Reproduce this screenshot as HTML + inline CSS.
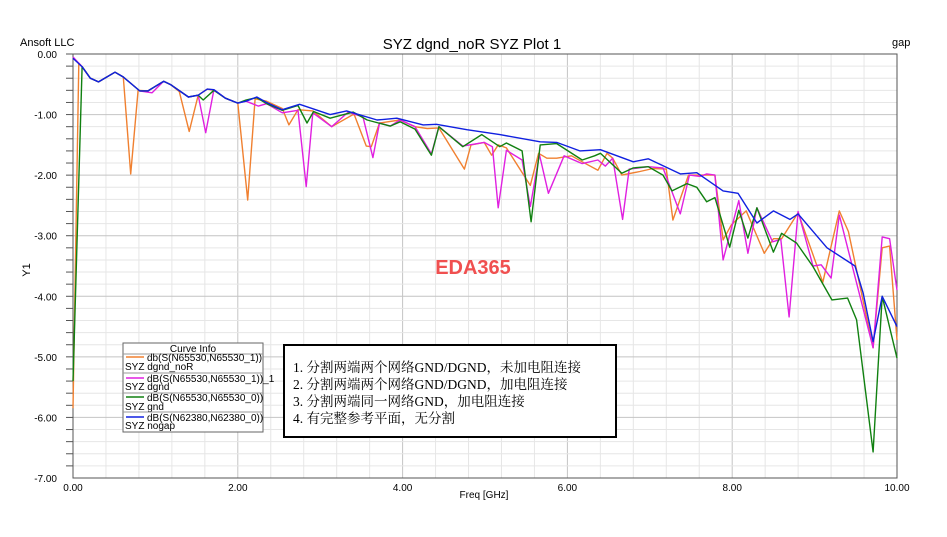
<!DOCTYPE html>
<html><head><meta charset="utf-8"><style>
body{margin:0;background:#fff;width:947px;height:532px;overflow:hidden;font-family:"Liberation Sans",Arial,sans-serif}
</style></head><body>
<svg id="s" width="947" height="532" xmlns="http://www.w3.org/2000/svg" font-family="Liberation Sans, sans-serif">
<text x="20" y="46" font-size="11">Ansoft LLC</text>
<text x="472" y="49" font-size="15" text-anchor="middle">SYZ dgnd_noR SYZ Plot 1</text>
<text x="892" y="46" font-size="11">gap</text>
<g id="grid"></g>
<rect x="73" y="54" width="824" height="424" fill="none" stroke="#555" stroke-width="1"/>
<g id="ticks" font-size="10"></g>
<text x="30" y="270" font-size="11" transform="rotate(-90 30 270)" text-anchor="middle">Y1</text>
<text x="484" y="498" font-size="10" text-anchor="middle">Freq [GHz]</text>
<g id="series" fill="none" stroke-width="1.4" stroke-linejoin="round"></g>
<text x="473" y="274" font-size="20" font-weight="bold" fill="#f05050" text-anchor="middle">EDA365</text>
<g font-size="10">
<rect x="123" y="343" width="140" height="89" fill="#fff" stroke="#666"/>
<text x="193" y="352" text-anchor="middle">Curve Info</text>
<line x1="123" y1="354" x2="263" y2="354" stroke="#999"/>
<line x1="126" y1="357" x2="144" y2="357" stroke="#f08030" stroke-width="1.5"/>
<text x="147" y="361">db(S(N65530,N65530_1))</text><text x="125" y="370">SYZ dgnd_noR</text>
<line x1="123" y1="373" x2="263" y2="373" stroke="#999"/>
<line x1="126" y1="378" x2="144" y2="378" stroke="#e020e0" stroke-width="1.5"/>
<text x="147" y="382">dB(S(N65530,N65530_1))_1</text><text x="125" y="390">SYZ dgnd</text>
<line x1="123" y1="393" x2="263" y2="393" stroke="#999"/>
<line x1="126" y1="397" x2="144" y2="397" stroke="#108010" stroke-width="1.5"/>
<text x="147" y="401">dB(S(N65530,N65530_0))</text><text x="125" y="410">SYZ gnd</text>
<line x1="123" y1="412" x2="263" y2="412" stroke="#999"/>
<line x1="126" y1="417" x2="144" y2="417" stroke="#1020e0" stroke-width="1.5"/>
<text x="147" y="421">dB(S(N62380,N62380_0))</text><text x="125" y="429">SYZ nogap</text>
</g>
<rect x="284" y="345" width="332" height="92" fill="#fff" stroke="#000" stroke-width="2"/>
<g font-size="13.5" font-family="Liberation Serif, Noto Serif CJK SC, serif">
<text x="293" y="372">1. 分割两端两个网络GND/DGND，未加电阻连接</text>
<text x="293" y="389">2. 分割两端两个网络GND/DGND，加电阻连接</text>
<text x="293" y="406">3. 分割两端同一网络GND，加电阻连接</text>
<text x="293" y="423">4. 有完整参考平面，无分割</text>
</g>
</svg>
<script>
var NS="http://www.w3.org/2000/svg";
function X(f){return 73+f*82.4}function Y(v){return 54-v*60.57}
function el(p,t,a){var e=document.createElementNS(NS,t);for(var k in a)if(k!="txt")e.setAttribute(k,a[k]);if(a.txt)e.textContent=a.txt;document.getElementById(p).appendChild(e);return e}
for(var i=1;i<25;i++){var x=X(i*0.4);el("grid","line",{x1:x,x2:x,y1:54,y2:478,stroke:i%5==0?"#c4c4c4":"#e6e6e6"});}
for(var i=1;i<35;i++){var y=Y(-i*0.2);el("grid","line",{x1:73,x2:897,y1:y,y2:y,stroke:i%5==0?"#c4c4c4":"#e6e6e6"});}
for(var i=0;i<=7;i++){el("ticks","text",{x:57,y:Y(-i)+4,"text-anchor":"end",txt:(-i).toFixed(2)});}
for(var i=0;i<35;i++){el("ticks","line",{x1:66,x2:73,y1:Y(-i*0.2),y2:Y(-i*0.2),stroke:"#555"});}
for(var i=0;i<=10;i+=2){el("ticks","text",{x:X(i),y:491,"text-anchor":"middle",txt:i.toFixed(2)});}
function mk(col,pts){var d="";pts.forEach(function(p,i){d+=(i?" L":"M")+X(p[0]).toFixed(1)+","+Y(p[1]).toFixed(1)});el("series","path",{d:d,stroke:col});}
var orange=[[0,-5.85],[0.07,-0.15],[0.11,-0.21],[0.21,-0.4],[0.31,-0.46],[0.51,-0.3],[0.61,-0.38],[0.70,-1.98],[0.79,-0.6],[0.91,-0.61],[1.1,-0.45],[1.19,-0.51],[1.29,-0.62],[1.41,-1.28],[1.52,-0.68],[1.63,-0.58],[1.71,-0.6],[1.85,-0.73],[2.0,-0.81],[2.12,-2.41],[2.21,-0.74],[2.35,-0.78],[2.54,-0.9],[2.62,-1.17],[2.73,-0.92],[2.91,-0.94],[3.14,-1.2],[3.41,-0.99],[3.56,-1.52],[3.62,-1.53],[3.72,-1.14],[3.97,-1.09],[4.15,-1.2],[4.3,-1.23],[4.44,-1.22],[4.75,-1.9],[4.83,-1.5],[4.99,-1.46],[5.08,-1.67],[5.16,-1.5],[5.26,-1.55],[5.55,-2.17],[5.65,-1.64],[5.75,-1.72],[5.87,-1.72],[6.05,-1.68],[6.18,-1.78],[6.37,-1.92],[6.48,-1.64],[6.55,-1.72],[6.66,-2.0],[6.88,-1.94],[7.04,-1.89],[7.20,-1.9],[7.28,-2.74],[7.47,-2.0],[7.79,-2.0],[7.89,-3.07],[7.99,-2.82],[8.17,-2.59],[8.39,-3.29],[8.50,-3.05],[8.60,-3.05],[8.80,-2.62],[9.1,-3.77],[9.30,-2.59],[9.41,-2.93],[9.71,-4.85],[9.82,-3.2],[9.91,-3.17],[10,-4.72]];
var mag=[[0,-0.05],[0.11,-0.21],[0.21,-0.4],[0.31,-0.46],[0.51,-0.3],[0.61,-0.38],[0.81,-0.61],[0.96,-0.64],[1.1,-0.45],[1.19,-0.51],[1.4,-0.71],[1.52,-0.68],[1.61,-1.3],[1.71,-0.59],[1.85,-0.73],[2.0,-0.81],[2.1,-0.78],[2.25,-0.86],[2.35,-0.82],[2.54,-0.97],[2.73,-0.93],[2.83,-2.19],[2.91,-0.97],[3.14,-1.2],[3.34,-0.96],[3.52,-1.04],[3.64,-1.71],[3.72,-1.14],[3.85,-1.19],[3.97,-1.09],[4.15,-1.2],[4.35,-1.65],[4.44,-1.2],[4.73,-1.52],[4.99,-1.46],[5.09,-1.53],[5.16,-2.54],[5.26,-1.59],[5.45,-1.75],[5.55,-2.52],[5.66,-1.66],[5.77,-2.3],[5.96,-1.68],[6.18,-1.81],[6.37,-1.75],[6.46,-1.85],[6.55,-1.72],[6.67,-2.73],[6.75,-1.9],[6.98,-1.86],[7.16,-1.88],[7.37,-2.64],[7.48,-2.0],[7.61,-2.02],[7.69,-1.98],[7.79,-2.0],[7.89,-3.4],[8.08,-2.42],[8.19,-3.29],[8.30,-2.54],[8.49,-3.1],[8.59,-3.06],[8.69,-4.34],[8.80,-2.6],[8.98,-3.5],[9.08,-3.48],[9.20,-3.7],[9.30,-2.66],[9.71,-4.85],[9.82,-3.02],[9.91,-3.05],[10,-3.9]];
var green=[[0,-5.4],[0.11,-0.21],[0.21,-0.4],[0.31,-0.46],[0.51,-0.3],[0.61,-0.38],[0.81,-0.61],[0.91,-0.61],[1.1,-0.45],[1.19,-0.51],[1.4,-0.71],[1.52,-0.68],[1.58,-0.76],[1.71,-0.6],[1.85,-0.73],[2.0,-0.81],[2.1,-0.76],[2.23,-0.72],[2.35,-0.82],[2.54,-0.93],[2.73,-0.85],[2.84,-1.14],[2.92,-0.95],[3.12,-1.06],[3.4,-0.96],[3.57,-1.09],[3.85,-1.19],[3.97,-1.12],[4.15,-1.24],[4.35,-1.67],[4.44,-1.2],[4.73,-1.53],[4.96,-1.33],[5.18,-1.53],[5.26,-1.47],[5.45,-1.6],[5.56,-2.77],[5.67,-1.5],[5.87,-1.48],[6.18,-1.75],[6.33,-1.68],[6.40,-1.64],[6.66,-1.97],[6.80,-1.88],[6.98,-1.86],[7.16,-2.0],[7.27,-2.26],[7.45,-2.14],[7.57,-2.2],[7.69,-2.44],[7.79,-2.37],[7.97,-3.19],[8.08,-2.58],[8.19,-3.04],[8.30,-2.54],[8.50,-3.27],[8.60,-2.96],[8.78,-3.12],[8.98,-3.51],[9.21,-4.06],[9.40,-4.03],[9.51,-4.39],[9.71,-6.57],[9.82,-4.0],[10,-5.02]];
var blue=[[0,-0.07],[0.11,-0.21],[0.21,-0.4],[0.31,-0.46],[0.51,-0.3],[0.61,-0.38],[0.81,-0.61],[0.91,-0.61],[1.1,-0.45],[1.19,-0.51],[1.4,-0.71],[1.52,-0.68],[1.63,-0.58],[1.71,-0.59],[1.85,-0.73],[2.0,-0.81],[2.1,-0.78],[2.23,-0.71],[2.35,-0.8],[2.54,-0.92],[2.75,-0.83],[3.12,-1.0],[3.32,-0.94],[3.69,-1.09],[3.93,-1.06],[4.25,-1.17],[4.41,-1.16],[4.78,-1.25],[5.18,-1.33],[5.67,-1.45],[5.87,-1.46],[6.15,-1.6],[6.40,-1.58],[6.80,-1.78],[6.98,-1.73],[7.37,-1.98],[7.57,-1.96],[7.89,-2.26],[8.07,-2.3],[8.30,-2.79],[8.50,-2.59],[8.70,-2.73],[8.80,-2.64],[9.15,-3.2],[9.49,-3.5],[9.59,-3.95],[9.71,-4.75],[9.82,-4.0],[10,-4.5]];
mk("#f08030",orange);mk("#e020e0",mag);mk("#108010",green);mk("#1020e0",blue);
</script>
</body></html>
